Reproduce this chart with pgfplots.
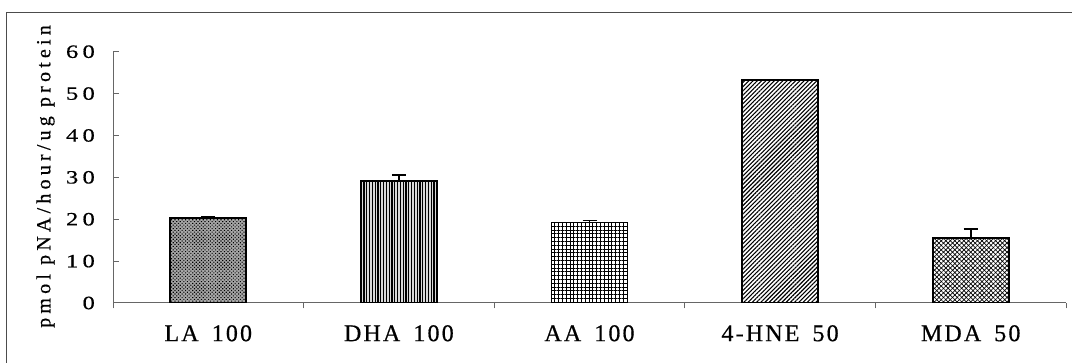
\documentclass[border=0pt]{standalone}
\usepackage{pgfplots}
\pgfplotsset{compat=1.18}
\usepackage{fontspec}
\setmainfont{Liberation Serif}[LetterSpace=9, WordSpace=1.6, FakeBold=0.6]
\newfontfamily\tickfont{Liberation Serif}[FakeStretch=1.3, LetterSpace=23, FakeBold=0.6]
\newfontfamily\labelfont{Liberation Serif}[LetterSpace=21, FakeBold=0.6]
\usetikzlibrary{patterns.meta}

\begin{document}
\begin{tikzpicture}[x=1pt,y=1pt]
\begin{axis}[
  at={(113pt,60pt)}, anchor=south west,
  scale only axis, width=953pt, height=251.3pt,
  xmin=0.5, xmax=5.5, ymin=0, ymax=60,
  axis x line*=bottom, axis y line*=left,
  axis line style={black!60, line width=1pt, -},
  ytick={0,10,...,60},
  xtick={0.5,1.5,...,5.5},
  xticklabels={},
  extra x ticks={1,2,3,4,5},
  extra x tick labels={LA 100, DHA 100, AA 100, 4-HNE 50, MDA 50},
  extra x tick style={major tick length=0pt},
  tick style={black!60, line width=1pt},
  major tick length=5.5pt, tick align=inside,
  /pgf/number format/assume math mode=true,
  yticklabel style={font=\tickfont\fontsize{18.8}{20}\selectfont, anchor=east, inner sep=0pt, xshift=-18pt},
  xticklabel style={font=\fontsize{24}{26}\selectfont, anchor=north, inner sep=0pt, yshift=-22pt},
  ybar, bar width=76pt, bar shift=0pt,
  every axis plot/.append style={draw=black, line width=1.8pt},
  error bars/y dir=plus, error bars/y explicit,
  error bars/error bar style={line width=1.8pt, black},
  error bars/error mark options={rotate=90, mark size=7pt, line width=1.8pt, black},
]
% LA 100: stippled
\addplot[preaction={fill=black!35},
  pattern={Dots[distance=2.5pt, radius=0.8pt, angle=45]}]
  coordinates {(1,20.2) +- (0,0.45)};
% DHA 100: vertical lines
\addplot[preaction={fill=black!15},
  pattern={Lines[angle=90, distance=2.8pt, line width=1.1pt]}]
  coordinates {(2,29.2) +- (0,1.3)};
% AA 100: fine grid
\addplot[preaction={pattern={Lines[angle=0, distance=3.8pt, line width=0.8pt]}},
  pattern={Lines[angle=90, distance=3.8pt, line width=0.8pt]}]
  coordinates {(3,19.2) +- (0,0.5)};
% 4-HNE 50: diagonal lines
\addplot[pattern={Lines[angle=45, distance=3pt, line width=1.1pt]}]
  coordinates {(4,53.3) +- (0,0)};
% MDA 50: diagonal crosshatch
\addplot[preaction={pattern={Lines[angle=-45, distance=3.2pt, line width=0.7pt]}},
  pattern={Lines[angle=45, distance=3.2pt, line width=0.7pt]}]
  coordinates {(5,15.5) +- (0,2.2)};
\end{axis}
\node[rotate=90, font=\labelfont\fontsize{20}{22}\selectfont] at (45.5pt,186.5pt) {pmol pNA/hour/ug protein};
\draw[black!70, line width=1pt] (6pt,-20pt) -- (6pt,350pt) -- (1100pt,350pt);
\pgfresetboundingbox
\path[use as bounding box] (0,0) rectangle (1072pt,363pt);
\end{tikzpicture}
\end{document}
